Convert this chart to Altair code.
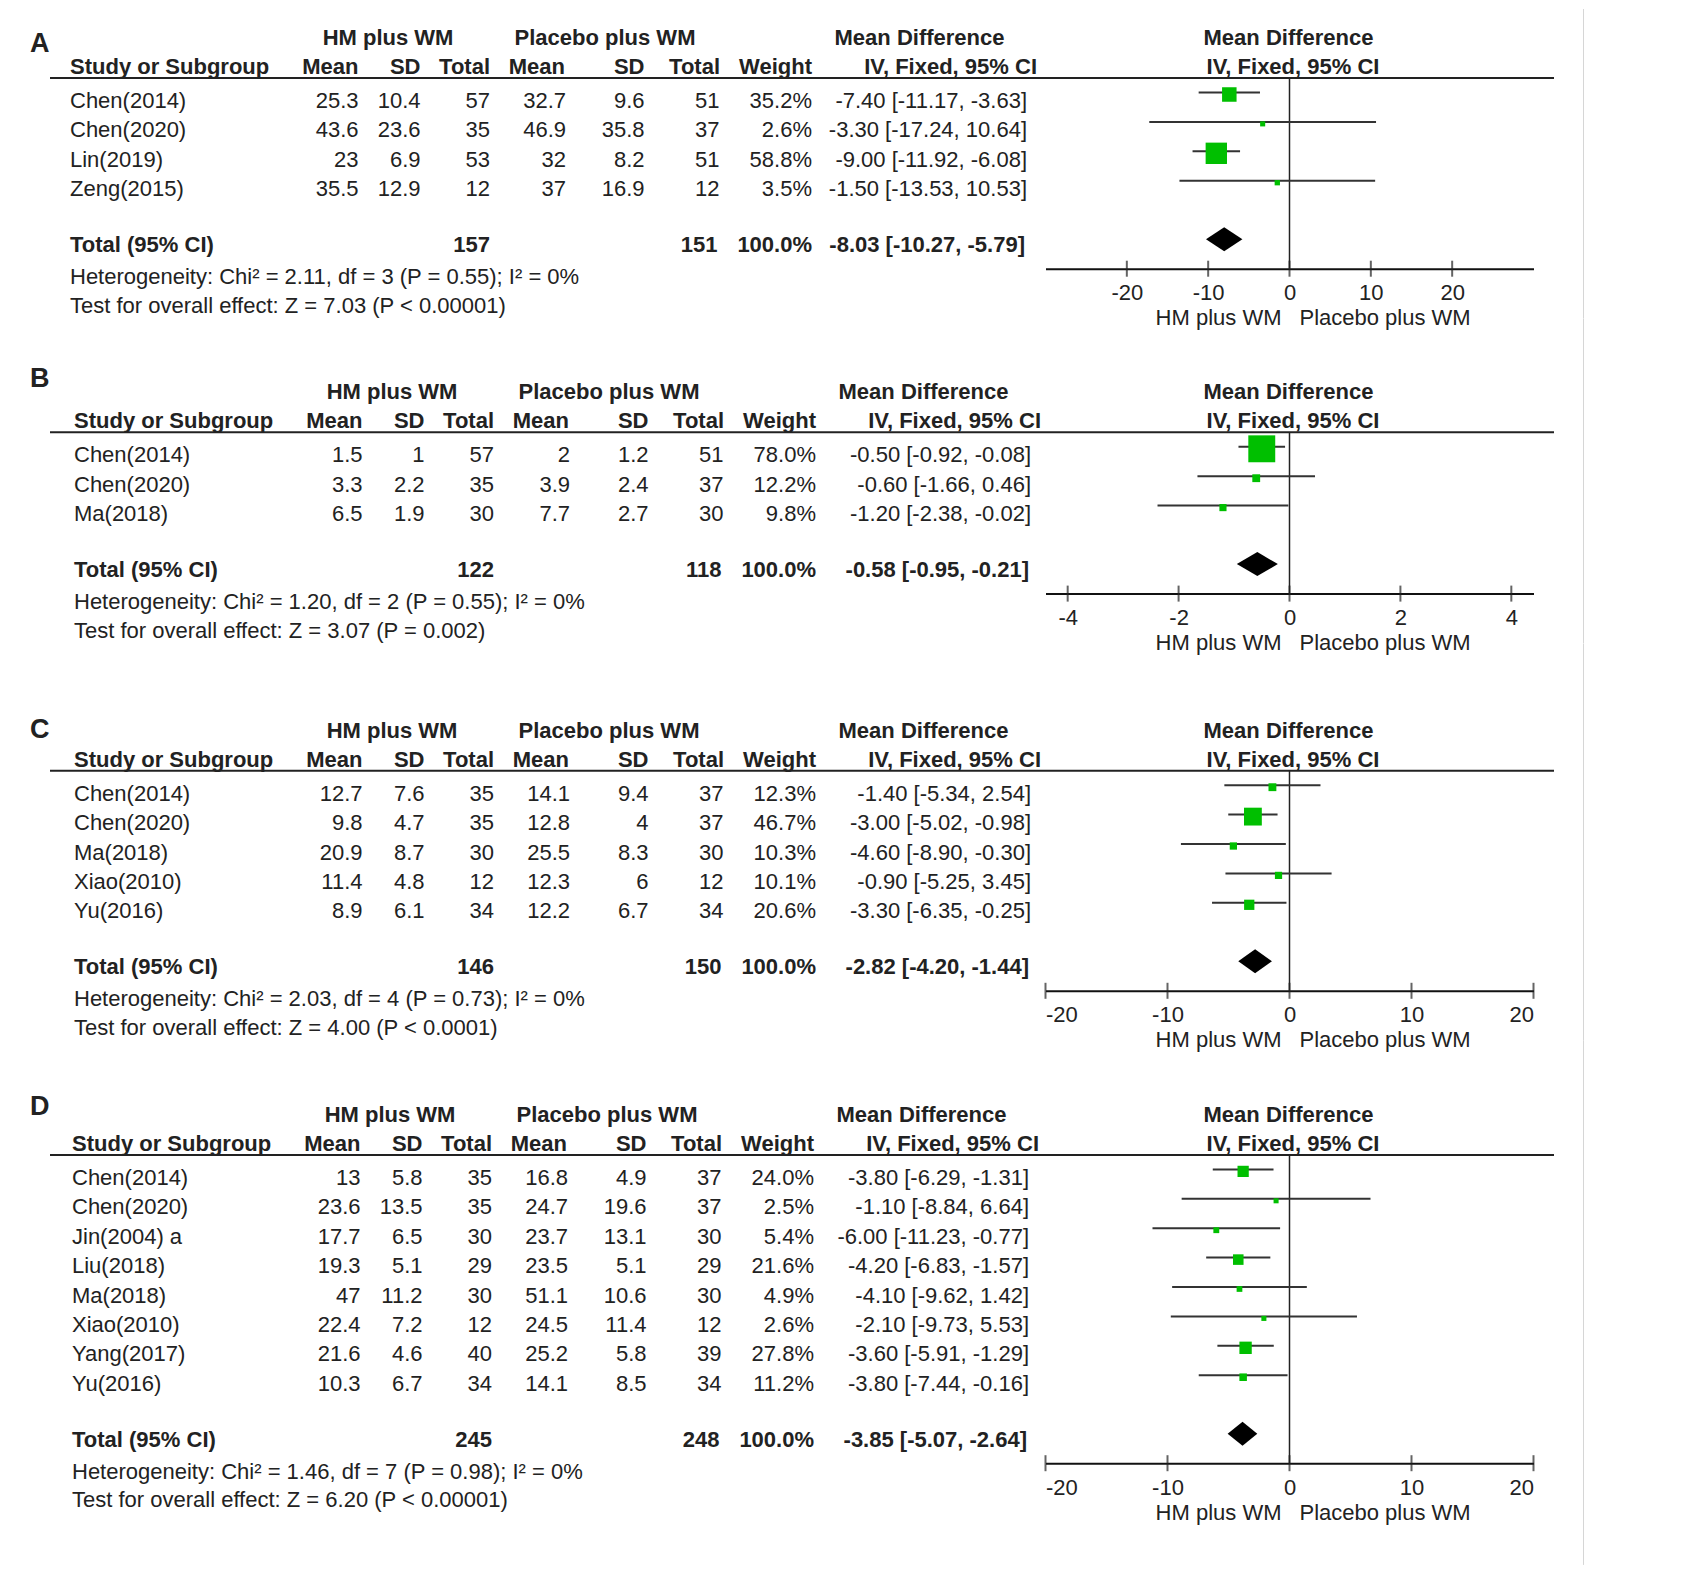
import altair as alt
import pandas as pd

FONT = "Liberation Sans"
TXT = "#222222"
LINE = "#222222"
GREEN = "#00BF00"
FS = 22

# ---------------- data ----------------
A_study = ["Chen(2014)", "Chen(2020)", "Lin(2019)", "Zeng(2015)"]
A_hm_mean = [25.3, 43.6, 23, 35.5]
A_hm_sd = [10.4, 23.6, 6.9, 12.9]
A_hm_n = [57, 35, 53, 12]
A_pl_mean = [32.7, 46.9, 32, 37]
A_pl_sd = [9.6, 35.8, 8.2, 16.9]
A_pl_n = [51, 37, 51, 12]
A_weight = [35.2, 2.6, 58.8, 3.5]
A_md = [-7.40, -3.30, -9.00, -1.50]
A_lo = [-11.17, -17.24, -11.92, -13.53]
A_hi = [-3.63, 10.64, -6.08, 10.53]
A_total = [157, 151, -8.03, -10.27, -5.79]
A_het = "Heterogeneity: Chi² = 2.11, df = 3 (P = 0.55); I² = 0%"
A_test = "Test for overall effect: Z = 7.03 (P < 0.00001)"

B_study = ["Chen(2014)", "Chen(2020)", "Ma(2018)"]
B_hm_mean = [1.5, 3.3, 6.5]
B_hm_sd = [1, 2.2, 1.9]
B_hm_n = [57, 35, 30]
B_pl_mean = [2, 3.9, 7.7]
B_pl_sd = [1.2, 2.4, 2.7]
B_pl_n = [51, 37, 30]
B_weight = [78.0, 12.2, 9.8]
B_md = [-0.50, -0.60, -1.20]
B_lo = [-0.92, -1.66, -2.38]
B_hi = [-0.08, 0.46, -0.02]
B_total = [122, 118, -0.58, -0.95, -0.21]
B_het = "Heterogeneity: Chi² = 1.20, df = 2 (P = 0.55); I² = 0%"
B_test = "Test for overall effect: Z = 3.07 (P = 0.002)"

C_study = ["Chen(2014)", "Chen(2020)", "Ma(2018)", "Xiao(2010)", "Yu(2016)"]
C_hm_mean = [12.7, 9.8, 20.9, 11.4, 8.9]
C_hm_sd = [7.6, 4.7, 8.7, 4.8, 6.1]
C_hm_n = [35, 35, 30, 12, 34]
C_pl_mean = [14.1, 12.8, 25.5, 12.3, 12.2]
C_pl_sd = [9.4, 4, 8.3, 6, 6.7]
C_pl_n = [37, 37, 30, 12, 34]
C_weight = [12.3, 46.7, 10.3, 10.1, 20.6]
C_md = [-1.40, -3.00, -4.60, -0.90, -3.30]
C_lo = [-5.34, -5.02, -8.90, -5.25, -6.35]
C_hi = [2.54, -0.98, -0.30, 3.45, -0.25]
C_total = [146, 150, -2.82, -4.20, -1.44]
C_het = "Heterogeneity: Chi² = 2.03, df = 4 (P = 0.73); I² = 0%"
C_test = "Test for overall effect: Z = 4.00 (P < 0.0001)"

D_study = ["Chen(2014)", "Chen(2020)", "Jin(2004) a", "Liu(2018)", "Ma(2018)",
           "Xiao(2010)", "Yang(2017)", "Yu(2016)"]
D_hm_mean = [13, 23.6, 17.7, 19.3, 47, 22.4, 21.6, 10.3]
D_hm_sd = [5.8, 13.5, 6.5, 5.1, 11.2, 7.2, 4.6, 6.7]
D_hm_n = [35, 35, 30, 29, 30, 12, 40, 34]
D_pl_mean = [16.8, 24.7, 23.7, 23.5, 51.1, 24.5, 25.2, 14.1]
D_pl_sd = [4.9, 19.6, 13.1, 5.1, 10.6, 11.4, 5.8, 8.5]
D_pl_n = [37, 37, 30, 29, 30, 12, 39, 34]
D_weight = [24.0, 2.5, 5.4, 21.6, 4.9, 2.6, 27.8, 11.2]
D_md = [-3.80, -1.10, -6.00, -4.20, -4.10, -2.10, -3.60, -3.80]
D_lo = [-6.29, -8.84, -11.23, -6.83, -9.62, -9.73, -5.91, -7.44]
D_hi = [-1.31, 6.64, -0.77, -1.57, 1.42, 5.53, -1.29, -0.16]
D_total = [245, 248, -3.85, -5.07, -2.64]
D_het = "Heterogeneity: Chi² = 1.46, df = 7 (P = 0.98); I² = 0%"
D_test = "Test for overall effect: Z = 6.20 (P < 0.00001)"

LABELS = ["A", "B", "C", "D"]
X_DOMAIN = [30, 4.4, 20, 20]
X_TICKS = [[-20, -10, 0, 10, 20], [-4, -2, 0, 2, 4],
           [-20, -10, 0, 10, 20], [-20, -10, 0, 10, 20]]

panels = [
    (A_study, A_hm_mean, A_hm_sd, A_hm_n, A_pl_mean, A_pl_sd, A_pl_n, A_weight, A_md, A_lo, A_hi, A_total, A_het, A_test),
    (B_study, B_hm_mean, B_hm_sd, B_hm_n, B_pl_mean, B_pl_sd, B_pl_n, B_weight, B_md, B_lo, B_hi, B_total, B_het, B_test),
    (C_study, C_hm_mean, C_hm_sd, C_hm_n, C_pl_mean, C_pl_sd, C_pl_n, C_weight, C_md, C_lo, C_hi, C_total, C_het, C_test),
    (D_study, D_hm_mean, D_hm_sd, D_hm_n, D_pl_mean, D_pl_sd, D_pl_n, D_weight, D_md, D_lo, D_hi, D_total, D_het, D_test),
]

# ---------------- layout ----------------
M = 8
HEAD_Y = [38, 392, 730, 1114]     # page y of first header line
LETTER_Y = [43, 378, 728, 1105]
XSHIFT = [0, 4, 4, 2]
FLUSH = [False, False, True, True]
ROW = 29.4
S = 50
W = 1600
ZERO_X = 1289.5 - M
HALF_X = 244

COLS = [("hm_mean", 358.5), ("hm_sd", 420.5), ("hm_n", 490), ("pl_mean", 566),
        ("pl_sd", 644.5), ("pl_n", 719.5), ("wt", 812), ("ci", 1027)]
H2 = [("Mean", 358.5), ("SD", 420.5), ("Total", 490), ("Mean", 565),
      ("SD", 644.5), ("Total", 720), ("Weight", 812), ("IV, Fixed, 95% CI", 1037)]
H1 = [("HM plus WM", 388), ("Placebo plus WM", 605), ("Mean Difference", 919.5)]


def fmt(v):
    return f"{v:g}"


def ci_str(m, l, h):
    return f"{m:.2f} [{l:.2f}, {h:.2f}]"


def one():
    return pd.DataFrame({"a": [0]})


def txt(s, x, y, align="left", bold=False, size=FS):
    return alt.Chart(pd.DataFrame({"t": [s]})).mark_text(
        font=FONT, fontSize=size, fontWeight="bold" if bold else "normal",
        color=TXT, align=align, baseline="middle"
    ).encode(text="t:N", x=alt.value(x), y=alt.value(y))


def build(i, p, T):
    (study, hm_mean, hm_sd, hm_n, pl_mean, pl_sd, pl_n, weight, md, lo, hi,
     total, het, test) = p
    n = len(study)
    sh = XSHIFT[i] - M
    h1 = HEAD_Y[i] - M - T
    y0 = h1 + 62
    ylast = y0 + ROW * (n - 1)
    ytot = ylast + 57
    H = ytot + 22.5

    df = pd.DataFrame({
        "row": list(range(n)),
        "study": study,
        "hm_mean": [fmt(v) for v in hm_mean],
        "hm_sd": [fmt(v) for v in hm_sd],
        "hm_n": [fmt(v) for v in hm_n],
        "pl_mean": [fmt(v) for v in pl_mean],
        "pl_sd": [fmt(v) for v in pl_sd],
        "pl_n": [fmt(v) for v in pl_n],
        "wt": [f"{w:.1f}%" for w in weight],
        "w": weight,
        "md": md, "lo": lo, "hi": hi,
        "ci": [ci_str(m, l, h) for m, l, h in zip(md, lo, hi)],
    })

    xs = alt.Scale(domain=[-X_DOMAIN[i], X_DOMAIN[i]],
                   range=[ZERO_X - HALF_X, ZERO_X + HALF_X], nice=False, zero=False)
    ys = alt.Scale(domain=[0, n - 1], range=[y0, ylast], nice=False, zero=False)
    ax = alt.Axis(values=X_TICKS[i], ticks=False, tickSize=0, labelPadding=14,
                  labelFontSize=FS, labelFont=FONT, labelColor=TXT,
                  domainColor="#111111", domainWidth=2, grid=False, title=None,
                  labelFlush=FLUSH[i], labelOverlap=False,
                  labelExpr="'' + datum.value")
    Y = alt.Y("row:Q", scale=ys, axis=None)

    layers = []
    # page border line
    layers.append(alt.Chart(one()).mark_rule(color="#d6d6d6", strokeWidth=1).encode(
        x=alt.value(1575.5), y=alt.value(0),
        y2=alt.value((H + S) if i < 3 else (1555 - T))))
    # panel letter
    layers.append(txt(LABELS[i], 22, LETTER_Y[i] - M - T, bold=True, size=27))
    # headers
    for s, x in H1:
        layers.append(txt(s, x + sh, h1 - 1, align="center", bold=True))
    layers.append(txt("Mean Difference", 1288.5 - M, h1 - 1, align="center", bold=True))
    layers.append(txt("Study or Subgroup", 70 + sh, h1 + 28, bold=True))
    for s, x in H2:
        layers.append(txt(s, x + sh, h1 + 28, align="right", bold=True))
    layers.append(txt("IV, Fixed, 95% CI", 1293 - M, h1 + 28, align="center", bold=True))
    # header line
    layers.append(alt.Chart(one()).mark_rule(color=LINE, strokeWidth=2).encode(
        x=alt.value(50 - M), x2=alt.value(1554 - M), y=alt.value(h1 + 39)))

    base = alt.Chart(df)
    # study names
    layers.append(base.mark_text(font=FONT, fontSize=FS, color=TXT, align="left",
                                 baseline="middle").encode(
        text="study:N", x=alt.value(70 + sh), y=Y))
    for f, x in COLS:
        layers.append(base.mark_text(font=FONT, fontSize=FS, color=TXT, align="right",
                                     baseline="middle").encode(
            text=f"{f}:N", x=alt.value(x + sh), y=Y))

    # total row
    layers.append(txt("Total (95% CI)", 70 + sh, ytot - 1, bold=True))
    layers.append(txt(fmt(total[0]), 490 + sh, ytot - 1, align="right", bold=True))
    layers.append(txt(fmt(total[1]), 717.5 + sh, ytot - 1, align="right", bold=True))
    layers.append(txt("100.0%", 812 + sh, ytot - 1, align="right", bold=True))
    layers.append(txt(ci_str(total[2], total[3], total[4]), 1025 + sh, ytot - 1,
                      align="right", bold=True))
    layers.append(txt(het, 70 + sh, ytot + 31))
    layers.append(txt(test, 70 + sh, ytot + 59.5))

    # zero line (carries the x axis)
    zdf = pd.DataFrame({"z": [0]})
    layers.append(alt.Chart(zdf).mark_rule(color=LINE, strokeWidth=1.5).encode(
        x=alt.X("z:Q", scale=xs, axis=ax), y=alt.value(h1 + 39), y2=alt.value(H)))
    # crossing ticks
    layers.append(alt.Chart(pd.DataFrame({"t": X_TICKS[i]})).mark_tick(
        color=LINE, thickness=2, size=16).encode(
        x=alt.X("t:Q", scale=xs, axis=ax), y=alt.value(H)))
    # CI lines
    layers.append(base.mark_rule(color="#333333", strokeWidth=2, yOffset=-8.5).encode(
        x=alt.X("lo:Q", scale=xs, axis=ax), x2="hi:Q", y=Y))
    # squares (side grows linearly with weight)
    layers.append(base.transform_calculate(
        area="pow(4.3 + 0.29 * datum.w, 2)").mark_square(
        color=GREEN, opacity=1, filled=True, yOffset=-6.5).encode(
        x=alt.X("md:Q", scale=xs, axis=ax), y=Y,
        size=alt.Size("area:Q", scale=None, legend=None)))
    # diamond
    tr = (ytot - y0) / ROW
    half = 12 / ROW
    ddf = pd.DataFrame({"x": [total[3], total[2], total[4]],
                        "ya": [tr, tr - half, tr], "yb": [tr, tr + half, tr]})
    layers.append(alt.Chart(ddf).mark_area(color="black", opacity=1, yOffset=-7,
                                           y2Offset=-7).encode(
        x=alt.X("x:Q", scale=xs, axis=ax),
        y=alt.Y("ya:Q", scale=ys, axis=None), y2="yb:Q"))
    # axis labels
    layers.append(alt.Chart(zdf.assign(t="HM plus WM")).mark_text(
        font=FONT, fontSize=FS, color=TXT, align="right", baseline="middle", dx=-8).encode(
        x=alt.X("z:Q", scale=xs, axis=ax), y=alt.value(H + 49.5), text="t:N"))
    layers.append(alt.Chart(zdf.assign(t="Placebo plus WM")).mark_text(
        font=FONT, fontSize=FS, color=TXT, align="left", baseline="middle", dx=10).encode(
        x=alt.X("z:Q", scale=xs, axis=ax), y=alt.value(H + 49.5), text="t:N"))

    return alt.layer(*layers).properties(width=W, height=H), H


charts = []
T = 0.0
for i, p in enumerate(panels):
    ch, H = build(i, p, T)
    charts.append(ch)
    T = T + H + S

chart = alt.vconcat(*charts, spacing=S, bounds="flush").resolve_scale(
    x="independent", y="independent", size="independent"
).properties(padding=0).configure(
    font=FONT, view=alt.ViewConfig(strokeWidth=0, stroke="transparent"))

chart.save("out.html", embed_options={"renderer": "svg", "actions": False})
